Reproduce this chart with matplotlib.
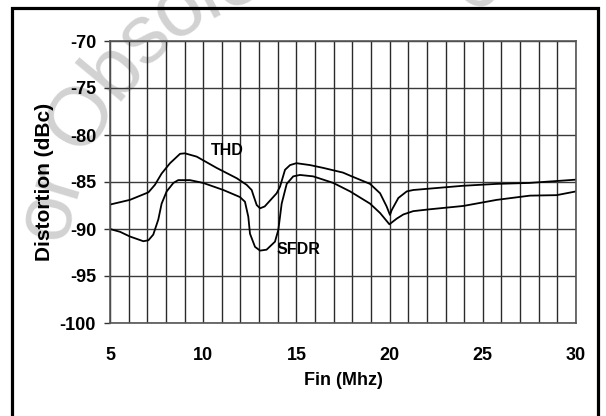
import numpy as np
import matplotlib
matplotlib.use("Agg")
import matplotlib.pyplot as plt
from matplotlib.patches import Rectangle
from matplotlib.font_manager import FontProperties, findfont
from matplotlib.ft2font import FT2Font

plt.rcParams["axes.unicode_minus"] = False

# THD and SFDR curves (Fin in MHz, distortion in dBc)
thd_f = [5.0, 6.07, 7.06, 7.41, 7.77, 8.22, 8.76, 9.02, 9.65, 10.72, 11.8, 12.33,
         12.6, 12.69, 12.87, 13.05, 13.3, 13.94, 14.12, 14.39, 14.66, 15.0, 15.73,
         16.44, 17.5, 17.97, 18.95, 19.49, 19.84, 20.02, 20.11, 20.47, 20.92, 21.27,
         22.17, 23.95, 25.75, 27.5, 30.0]
thd_db = [-87.4, -86.9, -86.1, -85.3, -84.1, -83.0, -82.0, -81.95, -82.3, -83.5, -84.6, -85.3,
          -85.85, -86.4, -87.45, -87.8, -87.6, -86.2, -85.5, -83.7, -83.2, -83.0, -83.2,
          -83.5, -84.0, -84.4, -85.2, -86.2, -87.6, -88.5, -88.0, -86.7, -86.0, -85.85,
          -85.7, -85.4, -85.2, -85.1, -84.75]

sfdr_f = [5.0, 5.54, 6.07, 6.79, 7.06, 7.32, 7.59, 7.77, 8.04, 8.4, 8.66, 9.29, 10.0,
          11.08, 11.97, 12.24, 12.42, 12.51, 12.78, 13.05, 13.4, 13.85, 14.03, 14.21,
          14.48, 14.83, 15.19, 15.9, 16.98, 17.88, 18.95, 19.49, 19.99, 20.38, 20.74,
          21.27, 22.17, 23.95, 25.75, 27.53, 28.96, 30.0]
sfdr_db = [-90.0, -90.3, -90.8, -91.3, -91.2, -90.6, -89.0, -87.3, -86.0, -85.1, -84.8, -84.8, -85.1,
           -85.85, -86.6, -87.1, -88.7, -90.5, -91.9, -92.3, -92.2, -91.35, -90.1, -87.3,
           -85.2, -84.4, -84.25, -84.4, -85.1, -86.0, -87.3, -88.3, -89.5, -88.9, -88.45,
           -88.1, -87.9, -87.55, -86.9, -86.45, -86.4, -86.0]

x_ticks = [5, 10, 15, 20, 25, 30]
y_ticks = [-100, -95, -90, -85, -80, -75, -70]
watermark = "or Obsolete - No"

W, H = 606, 416
font = "Liberation Sans"

fig = plt.figure(figsize=(W / 100, H / 100), dpi=100)
fig.patch.set_facecolor("white")

# faint watermark written along an arc, behind the chart
wm_size = 60
ft = FT2Font(findfont(FontProperties(family=font)))
ft.set_size(wm_size, 100)
adv = []
for ch in watermark:
    adv.append(ft.load_char(ord(ch)).linearHoriAdvance / 65536)
adv = np.array(adv)
centers = np.cumsum(adv) - adv / 2
cx, cy, rad = 353, 269, 311          # arc centre and radius in pixels (y down)
start = np.deg2rad(150.5)            # angle of the "O"
o_pos = centers[watermark.index("O")]
for ch, s in zip(watermark, centers):
    th = start - (s - o_pos) / rad
    px = cx + rad * np.cos(th)
    py = cy - rad * np.sin(th)
    if px < -60 or px > W + 60 or py < -45:
        continue
    fig.text(px / W, 1 - py / H, ch, fontsize=wm_size, family=font, color="#d2d2d2",
             rotation=np.rad2deg(th) - 90, ha="center", va="center",
             rotation_mode="anchor", zorder=0)

# outer frame (open at the bottom edge of the picture)
fig.patches.append(Rectangle((12 / W, -0.05), 586 / W, 1.05 - 8 / H, transform=fig.transFigure,
                             fill=False, lw=2.3, ec="black", zorder=1))

ax = fig.add_axes([110 / W, 1 - 323 / H, 466 / W, 282 / H])
ax.set_facecolor("none")
ax.set_zorder(2)

ax.plot(thd_f, thd_db, color="black", lw=1.3)
ax.plot(sfdr_f, sfdr_db, color="black", lw=1.3)

ax.text(11.3, -81.6, "THD", fontsize=11.5, family=font, weight="bold", ha="center", va="center")
ax.text(15.1, -92.2, "SFDR", fontsize=11.5, family=font, weight="bold", ha="center", va="center")

ax.set_xlim(5, 30)
ax.set_ylim(-100, -70)
ax.set_xticks(range(5, 31), minor=True)
ax.set_xticks(x_ticks)
ax.set_yticks(y_ticks)
ax.grid(True, which="both", axis="x", color="#2a2a2a", lw=1)
ax.grid(True, which="major", axis="y", color="#3a3a3a", lw=1)
for s in ax.spines.values():
    s.set_color("#555555")
    s.set_linewidth(1.2)

ax.tick_params(axis="x", which="both", length=0, pad=17, labelsize=13)
ax.tick_params(axis="y", length=4, width=1, color="#333333", pad=6, labelsize=13)
for lab in ax.get_xticklabels() + ax.get_yticklabels():
    lab.set_family(font)
    lab.set_weight("bold")

ax.set_xlabel("Fin (Mhz)", fontsize=13, family=font, weight="bold", labelpad=6)
ax.set_ylabel("Distortion (dBc)", fontsize=15, family=font, weight="bold", labelpad=4)

fig.savefig("out.png", dpi=100)
